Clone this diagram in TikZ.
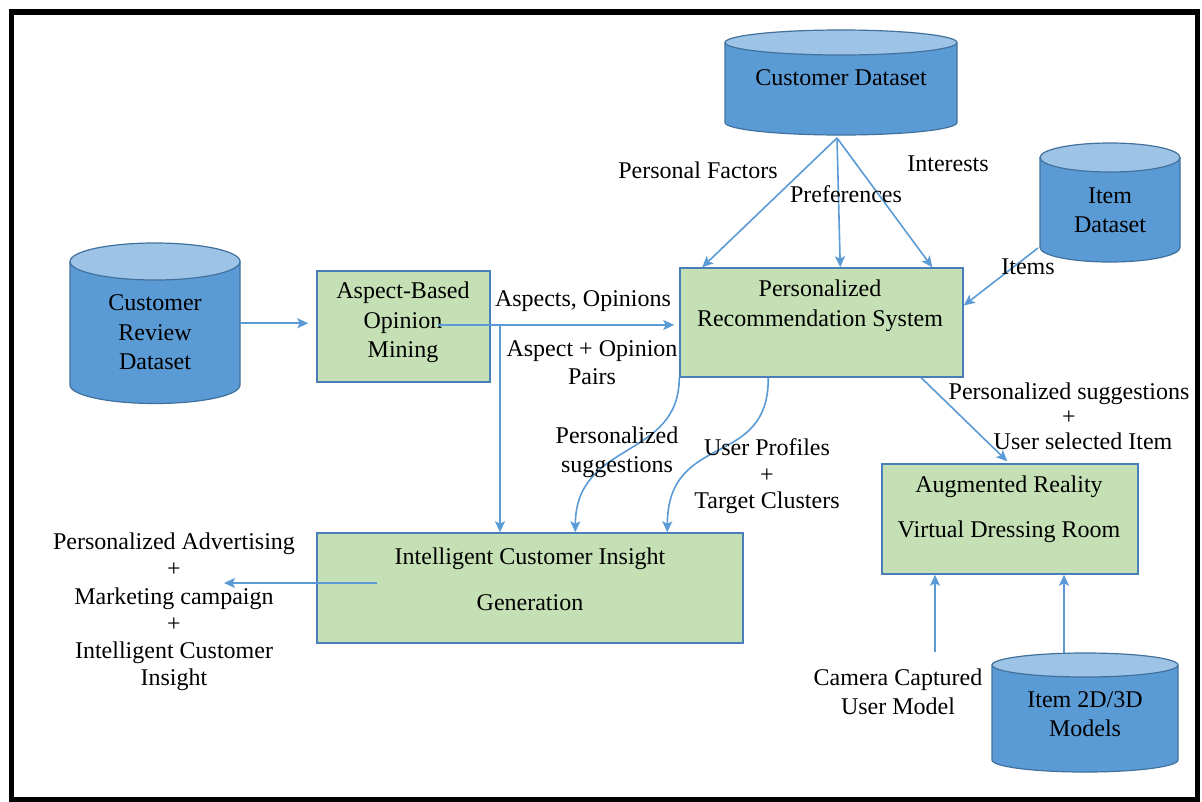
\documentclass[tikz,border=0pt]{standalone}
\usepackage{fontspec}
\setmainfont{Liberation Serif}
\usetikzlibrary{arrows.meta}
\definecolor{flowblue}{HTML}{5B9BD5}
\definecolor{drumside}{HTML}{5B9BD5}
\definecolor{drumtop}{HTML}{9DC3E6}
\definecolor{drumedge}{HTML}{41719C}
\definecolor{boxfill}{HTML}{C5E0B4}
\definecolor{boxedge}{HTML}{4A7EBB}

% database drum: name, centre x, half width, top ellipse y, bottom ellipse y, ellipse half height
\newcommand\drum[6]{%
  \fill[drumside] ({#2-#3},#4) -- ({#2-#3},#5)
    arc[start angle=180,end angle=0,x radius=#3,y radius=#6] -- ({#2+#3},#4) -- cycle;
  \draw[drumline] ({#2-#3},#4) -- ({#2-#3},#5)
    arc[start angle=180,end angle=0,x radius=#3,y radius=#6] -- ({#2+#3},#4);
  \draw[drumline,fill=drumtop] (#2,#4) ellipse[x radius=#3,y radius=#6];
  \node[inner sep=0pt,minimum width={2*#3*1pt},minimum height={(#5-#4+2*#6)*1pt}]
    (#1) at (#2,{(#4+#5)/2}) {};
}

\begin{document}
\begin{tikzpicture}[x=1pt,y=-1pt,
  font=\fontsize{24}{29}\selectfont,
  drumline/.style={draw=drumedge,line width=1.2pt},
  procbox/.style={draw=boxedge,fill=boxfill,line width=1.5pt,inner sep=0pt},
  txt/.style={inner sep=0pt,align=center,text=black},
  flow/.style={draw=flowblue,line width=1.6pt,
    -{Stealth[length=11pt,width=10pt,inset=2.5pt]}}]

\useasboundingbox (0,0) rectangle (1202,801);
\fill[white] (0,0) rectangle (1202,801);
\draw[line width=5.5pt] (11.5,12) rectangle (1197.5,800);

% data stores
\drum{cd}{841}{116}{42.5}{122.5}{12.5}
\drum{idb}{1110}{70}{157.5}{247.5}{14.5}
\drum{crd}{155}{85}{261.5}{385}{18.5}
\drum{itm}{1085}{93}{665}{760}{12}

\node[txt] (cdt) at (841,78) {Customer Dataset};
\node[txt] (idbt) at (1110,210.5) {Item\\Dataset};
\node[txt,font=\fontsize{24}{29.5}\selectfont] (crdt) at (155,332.5) {Customer\\Review\\Dataset};
\node[txt] (itmt) at (1085,714.5) {Item 2D/3D\\Models};

% processing blocks
\node[procbox,minimum width=173pt,minimum height=111pt] (abom) at (403.5,326.5) {};
\node[procbox,minimum width=283pt,minimum height=109pt] (prs) at (821.5,322.5) {};
\node[procbox,minimum width=426pt,minimum height=110pt] (icig) at (530,588) {};
\node[procbox,minimum width=256pt,minimum height=110pt] (ar) at (1010,519) {};

\node[txt,font=\fontsize{24}{29.5}\selectfont] (abomt) at (403,322.5) {Aspect-Based\\Opinion\\Mining};
\node[txt,font=\fontsize{24}{30}\selectfont] (prst) at (820,306) {Personalized\\Recommendation System};
\node[txt,font=\fontsize{24}{46}\selectfont] (icigt) at (530,579) {Intelligent Customer Insight\\Generation};
\node[txt,font=\fontsize{24}{45}\selectfont] (art) at (1009,509.5) {Augmented Reality\\Virtual Dressing Room};

% free ends of connectors
\coordinate (cdfoot) at (837,138);
\coordinate (idbfoot) at (1038,248);
\coordinate (aspout) at (438,325);
\coordinate (split) at (500,325);
\coordinate (icigout) at (377,583);
\coordinate (advin) at (224,583);
\coordinate (camtop) at (935,652);

% connectors
\draw[flow,shorten >=8pt] (crd.east) -- (crd.east -| abom.west);
\draw[flow,shorten >=5pt] (aspout) -- (aspout -| prs.west);
\draw[flow] (split) -- (split |- icig.north);
\draw[flow] (cdfoot) -- ([xshift=23pt]prs.north west);
\draw[flow] (cdfoot) -- ([xshift=161pt]prs.north west);
\draw[flow] (cdfoot) -- ([xshift=253pt]prs.north west);
\draw[flow] (idbfoot) -- ([yshift=17pt]prs.east);
\draw[flow] ([xshift=242pt]prs.south west) -- ([xshift=126pt,yshift=2pt]ar.north west);
\draw[flow] (prs.south west) .. controls (679,460) and (576,440) .. ([xshift=259pt]icig.north west);
\draw[flow] ([xshift=89pt]prs.south west) .. controls (769,470) and (668,430) .. ([xshift=351pt]icig.north west);
\draw[flow] (icigout) -- (advin);
\draw[flow] (camtop) -- (camtop |- ar.south);
\draw[flow] ([xshift=-21pt]itm.north) -- ([xshift=-21pt]itm.north |- ar.south);

% connector labels
\node[txt] (lpf) at (698,170) {Personal Factors};
\node[txt] (lpr) at (846,194) {Preferences};
\node[txt] (lin) at (948,164) {Interests};
\node[txt] (lit) at (1028,267) {Items};
\node[txt] (lao) at (583,301) {Aspects, Opinions};
\node[txt,font=\fontsize{24}{28}\selectfont] (lap) at (592,363) {Aspect + Opinion\\Pairs};
\node[txt] (lps) at (617,452.5) {Personalized\\suggestions};
\node[txt,font=\fontsize{24}{26.5}\selectfont] (lup) at (767,476.5) {User Profiles\\+\\Target Clusters};
\node[txt] (lsg) at (1069,394) {Personalized suggestions};
\node[txt] (lpl) at (1069,418) {+};
\node[txt] (lsi) at (1083,441) {User selected Item};
\node[txt,font=\fontsize{24}{27.2}\selectfont] (ladv) at (174,612)
  {Personalized Advertising\\+\\Marketing campaign\\+\\Intelligent Customer\\Insight};
\node[txt] (lcam) at (898,691.5) {Camera Captured\\User Model};
\end{tikzpicture}
\end{document}
